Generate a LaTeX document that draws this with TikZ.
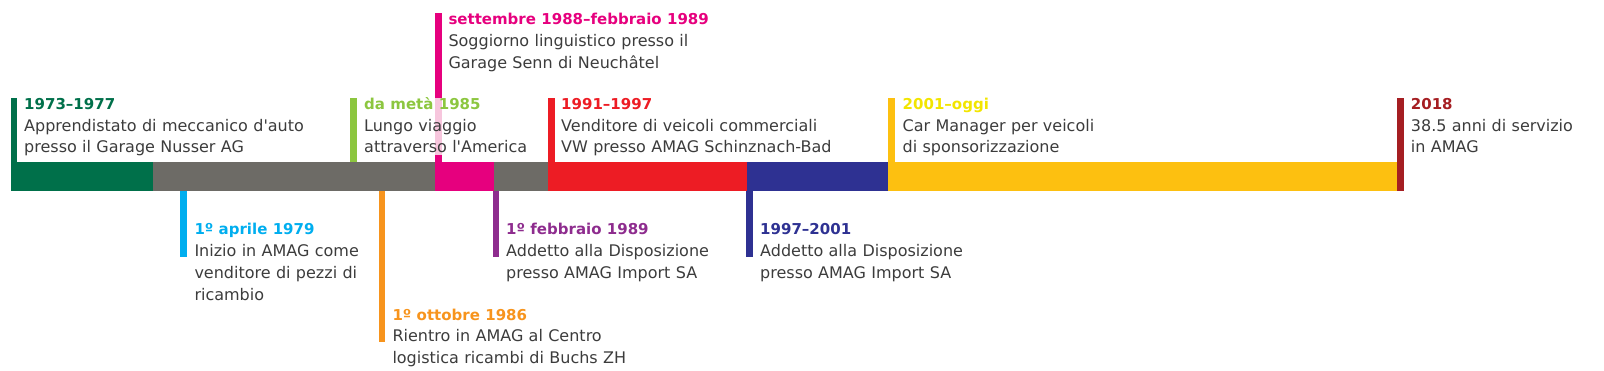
\documentclass[tikz,border=0pt]{standalone}
\usepackage{fontspec}
\setmainfont{DejaVu Sans}
\newfontfamily\tfont{DejaVu Sans}[UprightFont=* Bold]
\definecolor{cGreen}{HTML}{00704A}
\definecolor{cGray}{HTML}{6D6B66}
\definecolor{cPink}{HTML}{E6007E}
\definecolor{cPinkLight}{HTML}{F7C6DD}
\definecolor{cRed}{HTML}{ED1C24}
\definecolor{cNavy}{HTML}{2E3192}
\definecolor{cAmber}{HTML}{FDC010}
\definecolor{cYellow}{HTML}{F2E500}
\definecolor{cDarkRed}{HTML}{A51E22}
\definecolor{cLime}{HTML}{8CC63F}
\definecolor{cCyan}{HTML}{00AEEF}
\definecolor{cOrange}{HTML}{F7941D}
\definecolor{cPurple}{HTML}{8E2C8E}
\definecolor{txtgray}{HTML}{3C3C3C}
\newcommand\evttitle[2]{{\tfont\fontsize{15}{21.8}\selectfont\color{#1}#2}}
\tikzset{
  evt/.style={anchor=base west, inner sep=0pt, text width=340pt, align=left,
    font=\fontsize{16}{21.8}\selectfont, text=txtgray}
}
\begin{document}
\begin{tikzpicture}[x=1pt,y=-1pt]
\useasboundingbox (0,0) rectangle (1604,371);
% bar segments
\fill[cGreen] (11,162.5) rectangle (153,191.5);
\fill[cGray] (153,162.5) rectangle (435,191.5);
\fill[cPink] (435,162.5) rectangle (493.5,191.5);
\fill[cGray] (493.5,162.5) rectangle (548.3,191.5);
\fill[cRed] (548.3,162.5) rectangle (746.5,191.5);
\fill[cNavy] (746.5,162.5) rectangle (888.3,191.5);
\fill[cAmber] (888.3,162.5) rectangle (1397,191.5);
% top sticks
\fill[cGreen] (11,98.3) rectangle (16.5,162.5);
\fill[cLime] (350,98.3) rectangle (356.5,162.5);
\fill[cPink] (435,13.3) rectangle (442,162.5);
\fill[cPinkLight] (435,98.3) rectangle (442,155);
\fill[cRed] (548.3,98.3) rectangle (554.5,162.5);
\fill[cAmber] (888.3,98.3) rectangle (894.5,162.5);
\fill[cDarkRed] (1397,98.3) rectangle (1404,191.5);
% bottom sticks
\fill[cCyan] (180,191.5) rectangle (186.7,256.7);
\fill[cOrange] (379,191.5) rectangle (385,341.7);
\fill[cPurple] (492.5,191.5) rectangle (498.5,256.7);
\fill[cNavy] (746,191.5) rectangle (752.7,256.7);
% texts above
\node[evt] (e1973) at (24,109.3) {\evttitle{cGreen}{1973–1977}\\Apprendistato di meccanico d\textquotesingle auto\\presso il Garage Nusser AG};
\node[evt] (e1985) at (364,109.3) {\evttitle{cLime}{da metà 1985}\\Lungo viaggio\\attraverso l\textquotesingle America};
\node[evt] (e1988) at (448.3,25) {\evttitle{cPink}{settembre 1988–febbraio 1989}\\Soggiorno linguistico presso il\\Garage Senn di Neuchâtel};
\node[evt] (e1991) at (561,109.3) {\evttitle{cRed}{1991–1997}\\Venditore di veicoli commerciali\\VW presso AMAG Schinznach-Bad};
\node[evt] (e2001) at (902.5,109.3) {\evttitle{cYellow}{2001–oggi}\\Car Manager per veicoli\\di sponsorizzazione};
\node[evt] (e2018) at (1410.7,109.3) {\evttitle{cDarkRed}{2018}\\38.5 anni di servizio\\in AMAG};
% texts below
\node[evt] (e1979) at (194.3,235) {\evttitle{cCyan}{1º aprile 1979}\\Inizio in AMAG come\\venditore di pezzi di\\ricambio};
\node[evt] (e1986) at (392.3,320) {\evttitle{cOrange}{1º ottobre 1986}\\Rientro in AMAG al Centro\\logistica ricambi di Buchs ZH};
\node[evt] (e1989) at (506,235) {\evttitle{cPurple}{1º febbraio 1989}\\Addetto alla Disposizione\\presso AMAG Import SA};
\node[evt] (e1997) at (760,235) {\evttitle{cNavy}{1997–2001}\\Addetto alla Disposizione\\presso AMAG Import SA};
\end{tikzpicture}
\end{document}
